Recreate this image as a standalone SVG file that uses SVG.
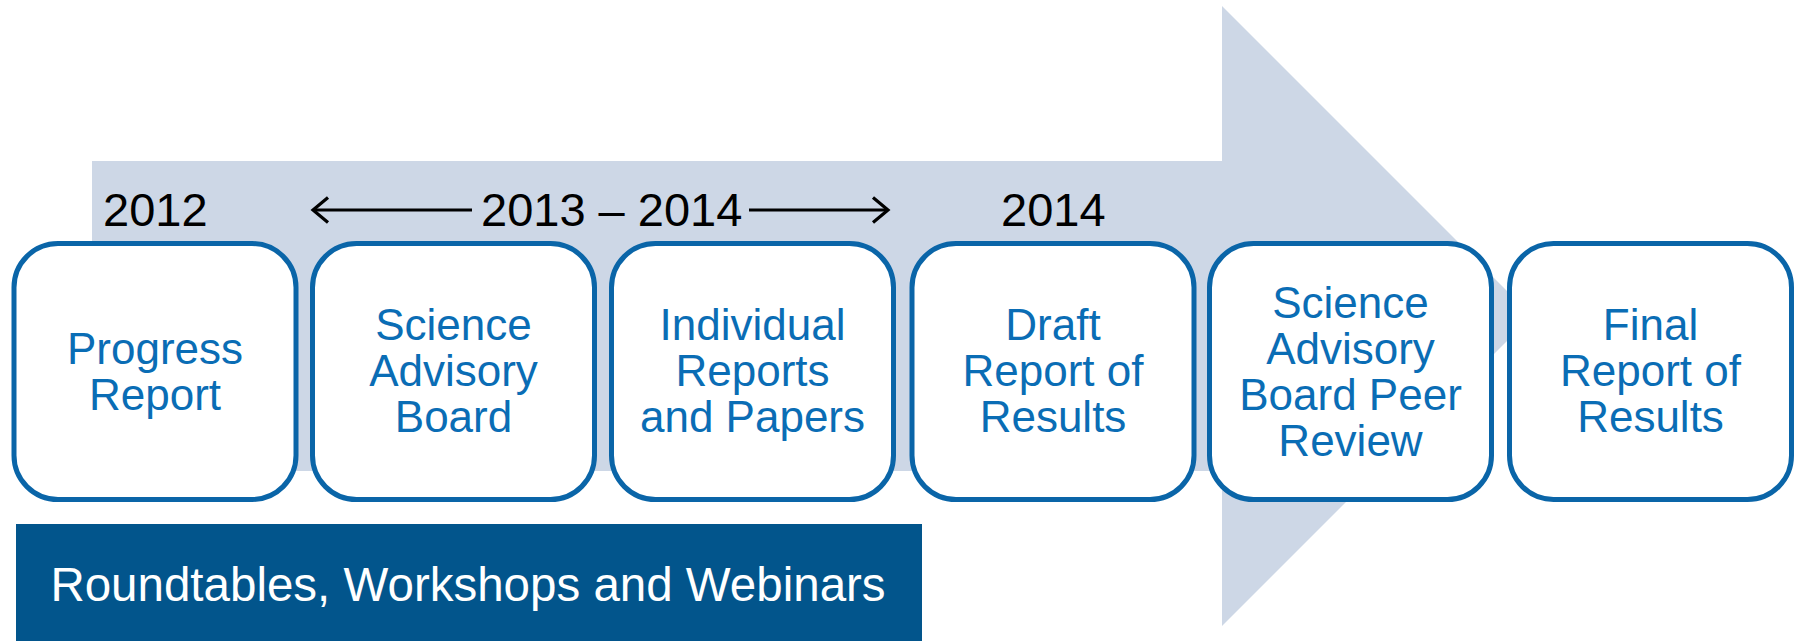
<svg xmlns="http://www.w3.org/2000/svg" width="1801" height="641" viewBox="0 0 1801 641">
<style>
.box{fill:#ffffff;stroke:#0a65a8;stroke-width:5}
.bt{font-family:"Liberation Sans",Arial,sans-serif;font-size:44px;fill:#0a6db5;text-anchor:middle}
.yr{font-family:"Liberation Sans",Arial,sans-serif;font-size:47px;fill:#000000}
.ban{font-family:"Liberation Sans",Arial,sans-serif;font-size:47.5px;fill:#ffffff;text-anchor:middle}
.ln{stroke:#000000;stroke-width:3;fill:none}
</style>
<defs>
<marker id="ah" markerWidth="20" markerHeight="30" refX="17" refY="14" orient="auto" markerUnits="userSpaceOnUse">
<path d="M2,1.5 L17,14 L2,26.5" fill="none" stroke="#000000" stroke-width="3.2"/>
</marker>
</defs>
<g id="bigarrow">
<polygon points="92,161 1222,161 1222,6 1532,316 1222,626 1222,471 92,471" fill="#cdd7e6"/>
</g>
<g id="years">
<text class="yr" x="103" y="226">2012</text>
<text class="yr" x="481" y="226">2013 – 2014</text>
<text class="yr" x="1001" y="226">2014</text>
</g>
<g id="connectors">
<line class="ln" x1="472" y1="210" x2="313" y2="210" marker-end="url(#ah)"/>
<line class="ln" x1="749" y1="210" x2="888" y2="210" marker-end="url(#ah)"/>
</g>
<g id="n1">
<rect class="box" x="14" y="243.5" width="282" height="256" rx="44"/>
<text class="bt" x="155" y="364">Progress</text>
<text class="bt" x="155" y="410">Report</text>
</g>
<g id="n2">
<rect class="box" x="312.5" y="243.5" width="282" height="256" rx="44"/>
<text class="bt" x="453.5" y="340">Science</text>
<text class="bt" x="453.5" y="386">Advisory</text>
<text class="bt" x="453.5" y="432">Board</text>
</g>
<g id="n3">
<rect class="box" x="611.5" y="243.5" width="282" height="256" rx="44"/>
<text class="bt" x="752.5" y="340">Individual</text>
<text class="bt" x="752.5" y="386">Reports</text>
<text class="bt" x="752.5" y="432">and Papers</text>
</g>
<g id="n4">
<rect class="box" x="912" y="243.5" width="282" height="256" rx="44"/>
<text class="bt" x="1053" y="340">Draft</text>
<text class="bt" x="1053" y="386">Report of</text>
<text class="bt" x="1053" y="432">Results</text>
</g>
<g id="n5">
<rect class="box" x="1209.5" y="243.5" width="282" height="256" rx="44"/>
<text class="bt" x="1350.5" y="318">Science</text>
<text class="bt" x="1350.5" y="364">Advisory</text>
<text class="bt" x="1350.5" y="410">Board Peer</text>
<text class="bt" x="1350.5" y="456">Review</text>
</g>
<g id="n6">
<rect class="box" x="1509.5" y="243.5" width="282" height="256" rx="44"/>
<text class="bt" x="1650.5" y="340">Final</text>
<text class="bt" x="1650.5" y="386">Report of</text>
<text class="bt" x="1650.5" y="432">Results</text>
</g>
<g id="banner">
<rect x="16" y="524" width="906" height="117" fill="#02558c"/>
<text class="ban" x="468" y="601">Roundtables, Workshops and Webinars</text>
</g>
</svg>
